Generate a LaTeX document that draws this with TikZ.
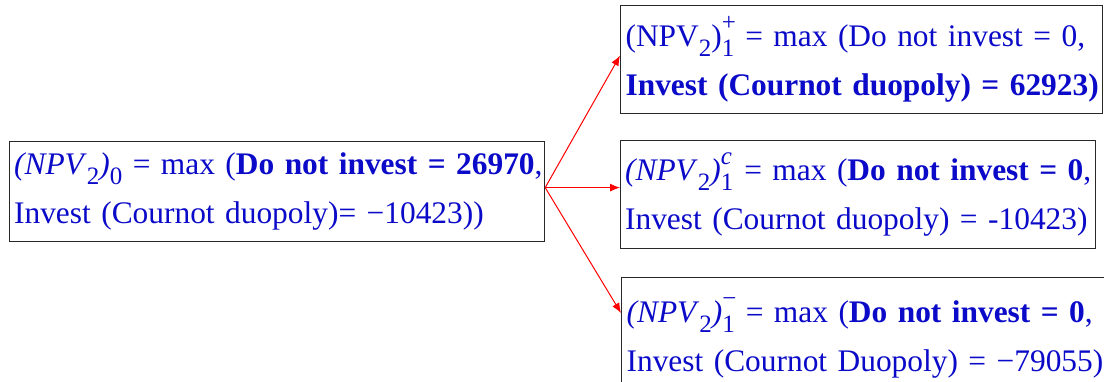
\documentclass[tikz,border=0pt]{standalone}
\usepackage{fontspec}
\setmainfont{Liberation Serif}[WordSpace={0.6,0,0}]
\usetikzlibrary{arrows.meta}
\definecolor{txtblue}{RGB}{10,10,200}
\definecolor{boxgray}{RGB}{40,40,40}
\newcommand{\smallf}{\fontsize{12.5}{12.5}\selectfont}
\newcommand{\sbs}[1]{\raisebox{-0.32em}{\smallf #1}}
\newcommand{\subsup}[2]{\makebox[0pt][l]{\raisebox{0.5em}{\smallf #2}}\raisebox{-0.32em}{\smallf #1}\hspace{0.35em}}
\begin{document}
\begin{tikzpicture}[x=0.5pt,y=-0.5pt,
  box/.style={draw=boxgray, line width=0.6pt, anchor=north west, inner xsep=2pt, inner ysep=0pt,
    align=left, text=txtblue, font=\fontsize{15.7}{24.5}\selectfont},
  conn/.style={red, line width=0.5pt, -{Latex[length=5pt,width=4pt]}}]
\useasboundingbox (0,0) rectangle (1104,381);
\node[box, minimum width=267.5pt, minimum height=50pt, text width=263pt] (L) at (9,141)
  {\mbox{\textit{(NPV}\sbs{2}\textit{)}\sbs{0} = max (\textbf{Do not invest = 26970},}\\
   \mbox{Invest (Cournot duopoly)= −10423))}};
\node[box, minimum width=241pt, minimum height=54pt, text width=236pt] (T) at (620,5)
  {\mbox{(NPV\sbs{2})\subsup{1}{+}= max (Do not invest = 0,}\\
   \mbox{\textbf{Invest (Cournot duopoly) = 62923)}}};
\node[box, minimum width=237.5pt, minimum height=54pt, text width=233pt] (M) at (620,140)
  {\mbox{\textit{(NPV}\sbs{2}\textit{)}\subsup{1}{\textit{c}}= max (\textbf{Do not invest = 0},}\\
   \mbox{Invest (Cournot duopoly) = -10423)}};
\node[box, minimum width=260pt, minimum height=60pt, text width=255pt] (B) at (621,277)
  {\mbox{\textit{(NPV}\sbs{2}\textit{)}\subsup{1}{−}= max (\textbf{Do not invest = 0},}\\
   \mbox{Invest (Cournot Duopoly) = −79055)}};
\coordinate (fork) at ([yshift=2pt]L.east);
\draw[conn] (fork) -- ([yshift=2pt]T.west);
\draw[conn] (fork) -- (M.west |- fork);
\draw[conn] (fork) -- ([yshift=-18pt]B.north west);
\end{tikzpicture}
\end{document}
